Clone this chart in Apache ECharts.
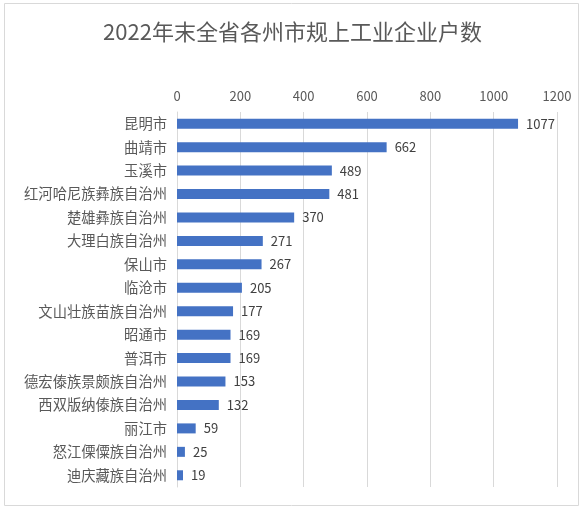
<!DOCTYPE html>
<html lang="zh">
<head>
    <meta charset="UTF-8">
    <title>2022年末全省各州市规上工业企业户数</title>
    <script src="https://cdn.jsdelivr.net/npm/echarts@6/dist/echarts.min.js"></script>
    <style>
        html, body { margin: 0; padding: 0; background: #fff; }
    </style>
</head>
<body>
<div id="main" style="width: 585px;height:512px;"></div>
<script type="text/javascript">
    // 数据
    var cities = ['昆明市', '曲靖市', '玉溪市', '红河哈尼族彝族自治州', '楚雄彝族自治州', '大理白族自治州',
        '保山市', '临沧市', '文山壮族苗族自治州', '昭通市', '普洱市', '德宏傣族景颇族自治州',
        '西双版纳傣族自治州', '丽江市', '怒江傈僳族自治州', '迪庆藏族自治州'];
    var counts = [1077, 662, 489, 481, 370, 271, 267, 205, 177, 169, 169, 153, 132, 59, 25, 19];
    var xTicks = [0, 200, 400, 600, 800, 1000, 1200];

    var myChart = echarts.init(document.getElementById('main'));

    var font = '"Microsoft YaHei", "Noto Sans CJK SC", sans-serif';

    var option = {
        animation: false,
        textStyle: { fontFamily: font },
        title: {
            text: '2022年末全省各州市规上工业企业户数',
            left: 'center',
            top: 16,
            textStyle: { fontSize: 22, fontWeight: 'normal', color: '#595959', fontFamily: font }
        },
        graphic: [{
            type: 'rect',
            shape: { x: 4.5, y: 3.5, width: 574, height: 502 },
            style: { fill: 'none', stroke: '#d9d9d9', lineWidth: 1 },
            silent: true
        }],
        grid: { left: 177, right: 28, top: 112, bottom: 25 },
        xAxis: {
            type: 'value',
            position: 'top',
            min: xTicks[0],
            max: xTicks[xTicks.length - 1],
            interval: xTicks[1] - xTicks[0],
            axisLine: { show: false },
            axisTick: { show: false },
            axisLabel: {
                color: '#595959', fontSize: 13, margin: 9,
                formatter: function (v) { return String(v); }
            },
            splitLine: { show: true, lineStyle: { color: '#d9d9d9' } }
        },
        yAxis: {
            type: 'category',
            inverse: true,
            data: cities,
            axisLine: { show: true, lineStyle: { color: '#d9d9d9' } },
            axisTick: { show: false },
            axisLabel: { color: '#595959', fontSize: 14.3, margin: 10 }
        },
        series: [{
            type: 'bar',
            data: counts,
            barWidth: 10,
            itemStyle: { color: '#4472c4' },
            label: {
                show: true,
                position: 'right',
                distance: 8,
                color: '#404040',
                fontSize: 13
            }
        }]
    };

    myChart.setOption(option);
</script>
</body>
</html>
